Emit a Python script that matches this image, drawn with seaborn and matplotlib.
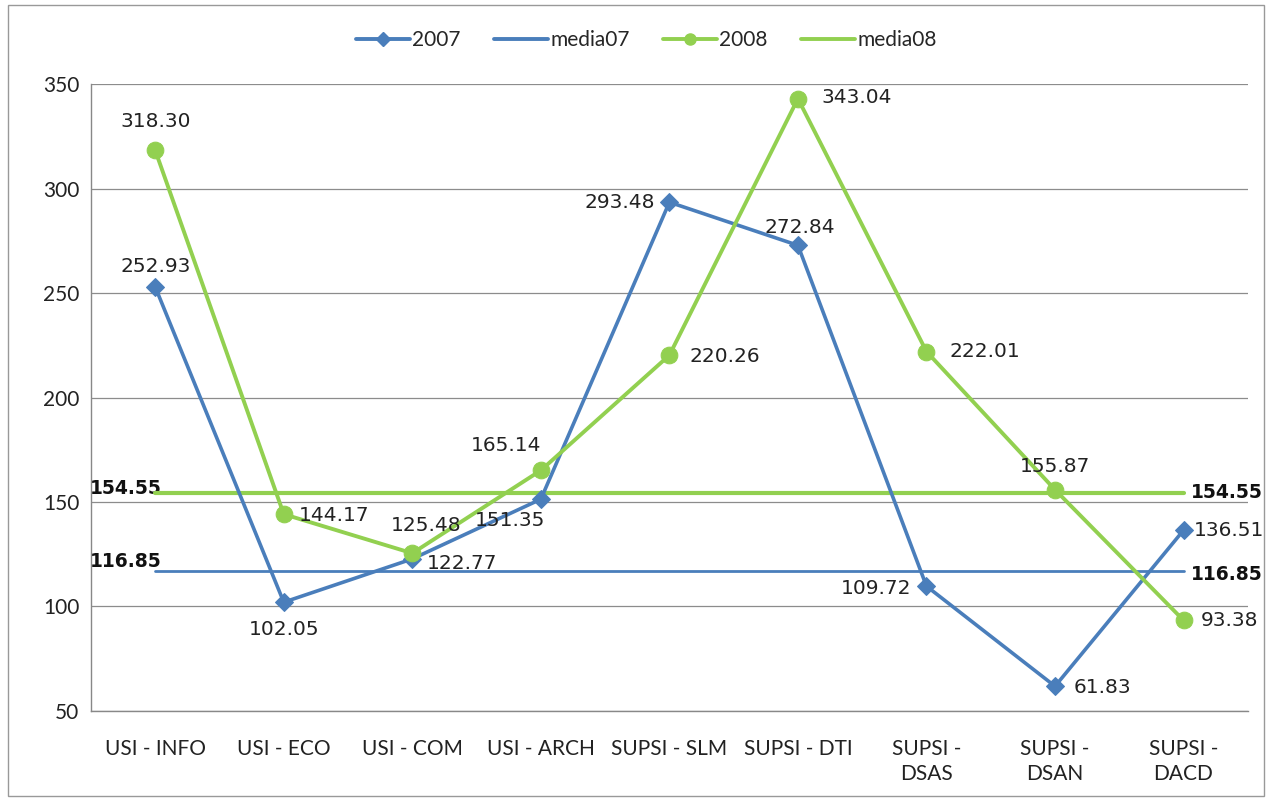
import numpy as np
import pandas as pd
import matplotlib
matplotlib.use("Agg")
import matplotlib.pyplot as plt
import seaborn as sns
from matplotlib.lines import Line2D

# data
categories = ["USI - INFO", "USI - ECO", "USI - COM", "USI - ARCH", "SUPSI - SLM",
              "SUPSI - DTI", "SUPSI -\nDSAS", "SUPSI -\nDSAN", "SUPSI -\nDACD"]
vals_2007 = [252.93, 102.05, 122.77, 151.35, 293.48, 272.84, 109.72, 61.83, 136.51]
vals_2008 = [318.30, 144.17, 125.48, 165.14, 220.26, 343.04, 222.01, 155.87, 93.38]
media07 = 116.85
media08 = 154.55

# label placement (offsets in points) for each data label
off_2007 = [(0, 15), (0, -20), (36, -3), (-22, -15), (-36, 0), (1, 13), (-36, -2), (34, -1), (33, 0)]
off_2008 = [(0, 21), (36, -1), (10, 20), (-25, 18), (40, -1), (42, 1), (42, 0), (0, 17), (33, 0)]

blue = "#4A7EBB"
green = "#92D050"

sns.set_style("white")
plt.rcParams["font.family"] = ["Lato", "DejaVu Sans"]

df = pd.DataFrame({
    "cat": list(range(len(categories))) * 2,
    "value": vals_2007 + vals_2008,
    "serie": ["2007"] * len(categories) + ["2008"] * len(categories),
})

fig = plt.figure(figsize=(12.72, 8.01), dpi=100)
ax = fig.add_axes([0.0715, 0.1124, 0.9095, 0.7826])

sns.lineplot(data=df[df.serie == "2007"], x="cat", y="value", color=blue, lw=2.6,
             marker="D", markersize=9, markeredgecolor=blue, ax=ax, zorder=4)
sns.lineplot(data=df[df.serie == "2008"], x="cat", y="value", color=green, lw=2.8,
             marker="o", markersize=12, markeredgecolor=green, ax=ax, zorder=5)

x0, x1 = 0, len(categories) - 1
ax.plot([x0, x1], [media07, media07], color=blue, lw=2.0, zorder=3)
ax.plot([x0, x1], [media08, media08], color=green, lw=3.0, zorder=3)

# data labels
lab_font = dict(fontsize=14.5, family=["DejaVu Sans"], color="#222222")
for i, (v, o) in enumerate(zip(vals_2007, off_2007)):
    ax.annotate(f"{v:.2f}", (i, v), xytext=o, textcoords="offset points",
                ha="center", va="center", zorder=6, **lab_font)
for i, (v, o) in enumerate(zip(vals_2008, off_2008)):
    ax.annotate(f"{v:.2f}", (i, v), xytext=o, textcoords="offset points",
                ha="center", va="center", zorder=6, **lab_font)

# mean labels
bold = dict(fontsize=13.5, fontweight="bold", family=["DejaVu Sans"], color="#111111")
ax.annotate(f"{media08:.2f}", (x0, media08), xytext=(5, 3), textcoords="offset points",
            ha="right", va="center", zorder=2, **bold)
ax.annotate(f"{media07:.2f}", (x0, media07), xytext=(5, 7), textcoords="offset points",
            ha="right", va="center", zorder=2, **bold)
ax.annotate(f"{media08:.2f}", (x1, media08), xytext=(5, 0), textcoords="offset points",
            ha="left", va="center", **bold)
ax.annotate(f"{media07:.2f}", (x1, media07), xytext=(5, -2), textcoords="offset points",
            ha="left", va="center", **bold)

ax.set_xlim(-0.5, len(categories) - 0.5)
ax.set_ylim(50, 350)
ax.set_yticks(np.arange(50, 351, 50))
ax.set_xticks(range(len(categories)))
ax.set_xticklabels(categories, fontsize=15, color="#222222", linespacing=1.3)
ax.set_xticks(np.arange(-0.5, len(categories), 1), minor=True)
ax.tick_params(axis="x", which="major", length=0, pad=20)
ax.tick_params(axis="x", which="minor", length=5, color="#888888")
ax.tick_params(axis="y", length=5, color="#888888", labelsize=15, labelcolor="#222222")
ax.set_xlabel("")
ax.set_ylabel("")
ax.yaxis.grid(True, color="#8c8c8c", lw=0.9)
ax.set_axisbelow(True)
for s in ["top", "right"]:
    ax.spines[s].set_visible(False)
for s in ["left", "bottom"]:
    ax.spines[s].set_color("#888888")
    ax.spines[s].set_linewidth(1.0)

handles = [
    Line2D([], [], color=blue, lw=2.8, marker="D", markersize=7),
    Line2D([], [], color=blue, lw=2.8),
    Line2D([], [], color=green, lw=2.8, marker="o", markersize=8),
    Line2D([], [], color=green, lw=2.8),
]
ax.legend(handles, ["2007", "media07", "2008", "media08"], loc="center",
          bbox_to_anchor=(0.48, 1.07), ncol=4, frameon=False, fontsize=15,
          handlelength=2.6, handletextpad=0.1, columnspacing=1.6)

fig.patches.append(plt.Rectangle((0.006, 0.006), 0.988, 0.988, transform=fig.transFigure,
                                 fill=False, edgecolor="#999999", lw=1.0))

fig.savefig("out.png", dpi=100)
